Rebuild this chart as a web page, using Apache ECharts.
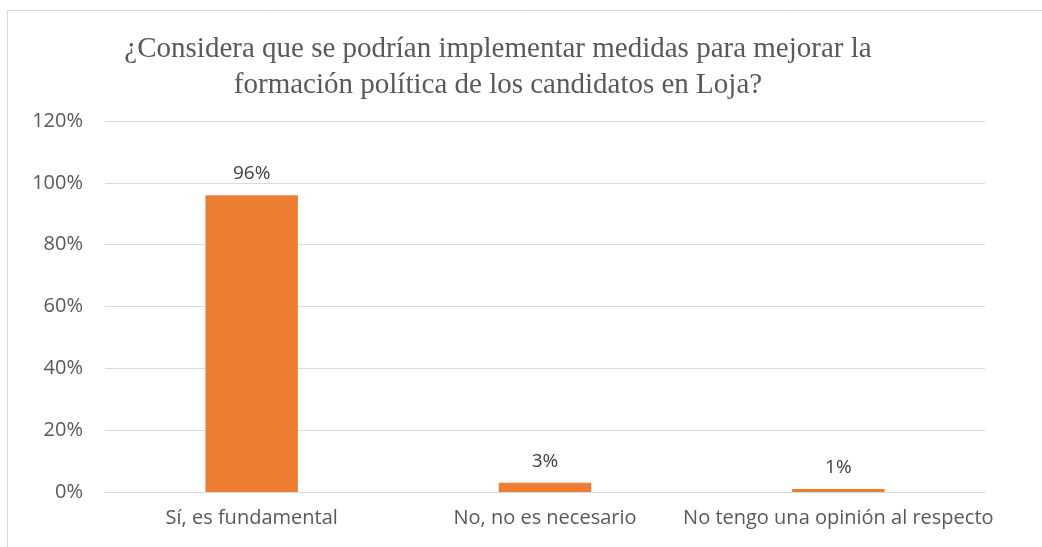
<!DOCTYPE html>
<html>
<head>
<meta charset="utf-8">
<script src="https://cdn.jsdelivr.net/npm/echarts@6/dist/echarts.min.js"></script>
<style>
  html, body { margin: 0; padding: 0; background: #fff; }
  #chart { width: 1042px; height: 547px; }
</style>
</head>
<body>
<div id="chart"></div>
<script>
// categorías y valores (porcentaje)
var categories = ['Sí, es fundamental', 'No, no es necesario', 'No tengo una opinión al respecto'];
var values = [96, 3, 1];
var yTicks = [0, 20, 40, 60, 80, 100, 120];

var myChart = echarts.init(document.getElementById('chart'));

var option = {
    backgroundColor: '#fff',
    title: {
        text: '¿Considera que se podrían implementar medidas para mejorar la\nformación política de los candidatos en Loja?',
        left: 493,
        top: 26,
        textAlign: 'center',
        textStyle: {
            fontFamily: 'Liberation Serif',
            fontWeight: 'normal',
            fontSize: 29,
            lineHeight: 36,
            color: '#595959'
        }
    },
    graphic: [
        { // borde del área del gráfico
            type: 'rect',
            shape: { x: 7.5, y: 10.5, width: 1040, height: 545 },
            style: { fill: 'none', stroke: '#d9d9d9', lineWidth: 1 },
            silent: true
        }
    ],
    grid: {
        left: 105,
        right: 57,
        top: 121,
        bottom: 55
    },
    xAxis: {
        type: 'category',
        data: categories,
        axisLine: { lineStyle: { color: '#d9d9d9', width: 1 } },
        axisTick: { show: false },
        axisLabel: {
            fontFamily: 'Open Sans',
            fontSize: 20,
            color: '#595959',
            margin: 16,
            interval: 0
        }
    },
    yAxis: {
        type: 'value',
        min: yTicks[0],
        max: yTicks[yTicks.length - 1],
        interval: 20,
        axisLine: { show: false },
        axisTick: { show: false },
        splitLine: { lineStyle: { color: '#d9d9d9', width: 1 } },
        axisLabel: {
            fontFamily: 'Open Sans',
            fontSize: 20,
            color: '#595959',
            margin: 22,
            formatter: '{value}%'
        }
    },
    series: [
        {
            type: 'bar',
            data: values,
            barWidth: '31.5%',
            itemStyle: { color: '#ED7D31' },
            label: {
                show: true,
                position: 'top',
                distance: 12,
                formatter: '{c}%',
                fontFamily: 'Open Sans',
                fontSize: 19,
                color: '#404040'
            }
        }
    ]
};

myChart.setOption(option);
</script>
</body>
</html>
